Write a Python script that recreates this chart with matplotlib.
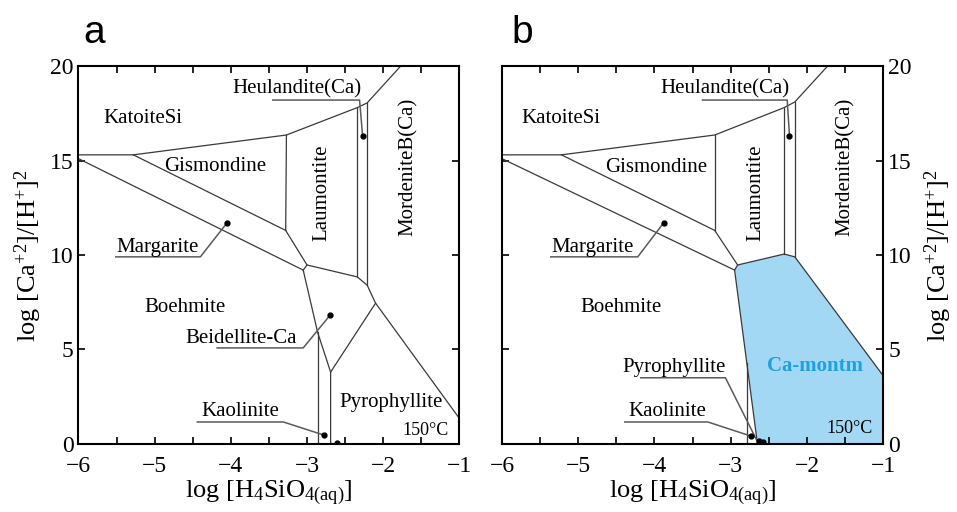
import numpy as np
import matplotlib
matplotlib.use("Agg")
import matplotlib.pyplot as plt
from matplotlib.ticker import MultipleLocator

plt.rcParams["font.family"] = ["Liberation Serif", "DejaVu Serif"]
plt.rcParams["mathtext.fontset"] = "custom"
plt.rcParams["mathtext.rm"] = "Liberation Serif"
plt.rcParams["mathtext.it"] = "Liberation Serif:italic"
plt.rcParams["mathtext.bf"] = "Liberation Serif:bold"

# Phase boundaries, (log H4SiO4, log Ca/H2) pairs.
lines_a = [
    [(-6, 15.3), (-5.28, 15.3), (-3.27, 16.35), (-2.34, 17.8), (-2.21, 18.05), (-1.77, 20)],
    [(-5.28, 15.3), (-3.28, 11.3)],
    [(-3.27, 16.35), (-3.28, 11.3)],
    [(-6, 15.1), (-3.05, 9.2)],
    [(-3.28, 11.3), (-3.0, 9.47), (-2.34, 8.84), (-2.21, 8.4), (-2.10, 7.45), (-1, 1.35)],
    [(-3.05, 9.2), (-3.0, 9.47)],
    [(-2.34, 17.8), (-2.34, 8.84)],
    [(-2.21, 18.05), (-2.21, 8.4)],
    [(-3.05, 9.2), (-2.86, 5.9), (-2.69, 3.8)],
    [(-2.86, 5.9), (-2.86, 0)],
    [(-2.10, 7.45), (-2.69, 3.8), (-2.69, 0)],
]
lines_b = [
    [(-6, 15.3), (-5.22, 15.3), (-3.21, 16.35), (-2.30, 17.8), (-2.16, 18.1), (-1.73, 20)],
    [(-5.22, 15.3), (-3.21, 11.3)],
    [(-3.21, 16.35), (-3.21, 11.3)],
    [(-6, 15.1), (-2.95, 9.2)],
    [(-3.21, 11.3), (-2.91, 9.47)],
    [(-2.30, 17.8), (-2.30, 10.05)],
    [(-2.16, 18.1), (-2.16, 9.9)],
    [(-2.79, 4.3), (-2.79, 0)],
]
camontm_b = [(-2.95, 9.2), (-2.91, 9.47), (-2.30, 10.05), (-2.16, 9.9),
             (-1, 3.6), (-1, 0), (-2.65, 0)]

# leader lines (label underline -> point) and the marked points
leaders_a = [
    [(-3.45, 18.2), (-2.31, 18.2), (-2.27, 16.3)],
    [(-5.51, 9.9), (-4.40, 9.9), (-4.05, 11.7)],
    [(-4.18, 5.08), (-3.05, 5.08), (-2.70, 6.8)],
    [(-4.44, 1.16), (-3.31, 1.16), (-2.78, 0.47)],
]
dots_a = [(-2.27, 16.3), (-4.05, 11.7), (-2.70, 6.8), (-2.78, 0.47), (-2.61, 0.05)]
leaders_b = [
    [(-3.37, 18.2), (-2.26, 18.2), (-2.23, 16.3)],
    [(-5.36, 9.9), (-4.22, 9.9), (-3.88, 11.7)],
    [(-4.18, 3.5), (-3.07, 3.5), (-2.66, 0.2)],
    [(-4.39, 1.16), (-3.30, 1.16), (-2.74, 0.42)],
]
dots_b = [(-2.23, 16.3), (-3.88, 11.7), (-2.74, 0.42), (-2.63, 0.15), (-2.58, 0.1)]

# field names: (text, x, y, rotation)
labels_a = [
    ("KatoiteSi", -5.15, 17.25, 0), ("Gismondine", -4.2, 14.7, 0),
    ("Laumontite", -2.8, 13.3, 90), ("MordeniteB(Ca)", -1.67, 14.65, 90),
    ("Heulandite(Ca)", -3.13, 18.8, 0), ("Margarite", -4.96, 10.4, 0),
    ("Boehmite", -4.6, 7.2, 0), ("Beidellite-Ca", -3.87, 5.6, 0),
    ("Pyrophyllite", -1.9, 2.2, 0), ("Kaolinite", -3.87, 1.7, 0),
]
labels_b = [
    ("KatoiteSi", -5.23, 17.25, 0), ("Gismondine", -3.98, 14.65, 0),
    ("Laumontite", -2.67, 13.3, 90), ("MordeniteB(Ca)", -1.5, 14.65, 90),
    ("Heulandite(Ca)", -3.08, 18.8, 0), ("Margarite", -4.81, 10.4, 0),
    ("Boehmite", -4.44, 7.2, 0), ("Pyrophyllite", -3.74, 4.07, 0),
    ("Kaolinite", -3.83, 1.7, 0),
]

xlab = r"log [H$_4$SiO$_{\mathrm{4(aq)}}$]"
ylab = r"log [Ca$^{+2}$]/[H$^{+}$]$^{2}$"

fig = plt.figure(figsize=(9.57, 5.12), dpi=100)
ax_a = fig.add_axes([0.082, 0.133, 0.398, 0.738])
ax_b = fig.add_axes([0.5245, 0.133, 0.3985, 0.738])


def draw_panel(ax, lines, leaders, dots, labels):
    for seg in lines:
        xs, ys = zip(*seg)
        ax.plot(xs, ys, color="#3a3a3a", lw=0.9, solid_joinstyle="miter")
    for seg in leaders:
        xs, ys = zip(*seg)
        ax.plot(xs, ys, color="#5a5a5a", lw=1.1)
    dx, dy = zip(*dots)
    ax.plot(dx, dy, "o", color="black", ms=3.5, clip_on=True)
    for txt, x, y, rot in labels:
        ax.text(x, y, txt, ha="center", va="center", rotation=rot, fontsize=15)
    ax.set_xlim(-6, -1)
    ax.set_ylim(0, 20)
    ax.xaxis.set_major_locator(MultipleLocator(1))
    ax.xaxis.set_minor_locator(MultipleLocator(0.5))
    ax.yaxis.set_major_locator(MultipleLocator(5))
    ax.tick_params(which="both", direction="in", top=True, right=True,
                   length=5, width=1.2, labelsize=17)
    ax.tick_params(axis="x", pad=9)
    ax.set_xticks(np.arange(-6, -0.9, 1))
    ax.set_xticklabels(["\u22126", "\u22125", "\u22124", "\u22123", "\u22122", "\u22121"])
    for s in ax.spines.values():
        s.set_linewidth(1.5)
    ax.set_xlabel(xlab, fontsize=19, labelpad=1)


draw_panel(ax_a, lines_a, leaders_a, dots_a, labels_a)
ax_a.text(-1.45, 0.7, "150°C", ha="center", va="center", fontsize=13)
ax_a.set_ylabel(ylab, fontsize=19, labelpad=4)

ax_b.fill([p[0] for p in camontm_b], [p[1] for p in camontm_b],
          facecolor="#a3d8f5", edgecolor="#3a3a3a", lw=0.9, zorder=1)
draw_panel(ax_b, lines_b, leaders_b, dots_b, labels_b)
ax_b.text(-1.9, 4.1, "Ca-montm", ha="center", va="center", fontsize=15,
          fontweight="bold", color="#1fa0e0")
ax_b.text(-1.44, 0.8, "150°C", ha="center", va="center", fontsize=13)
ax_b.yaxis.tick_right()
ax_b.tick_params(which="both", left=True, labelleft=False, labelright=True)
ax_b.yaxis.set_label_position("right")
ax_b.set_ylabel(ylab, fontsize=19, labelpad=8)

fig.text(0.098, 0.916, "a", fontsize=28, family="Liberation Sans", ha="center", va="baseline")
fig.text(0.546, 0.916, "b", fontsize=28, family="Liberation Sans", ha="center", va="baseline")

fig.savefig("out.png", dpi=100)
